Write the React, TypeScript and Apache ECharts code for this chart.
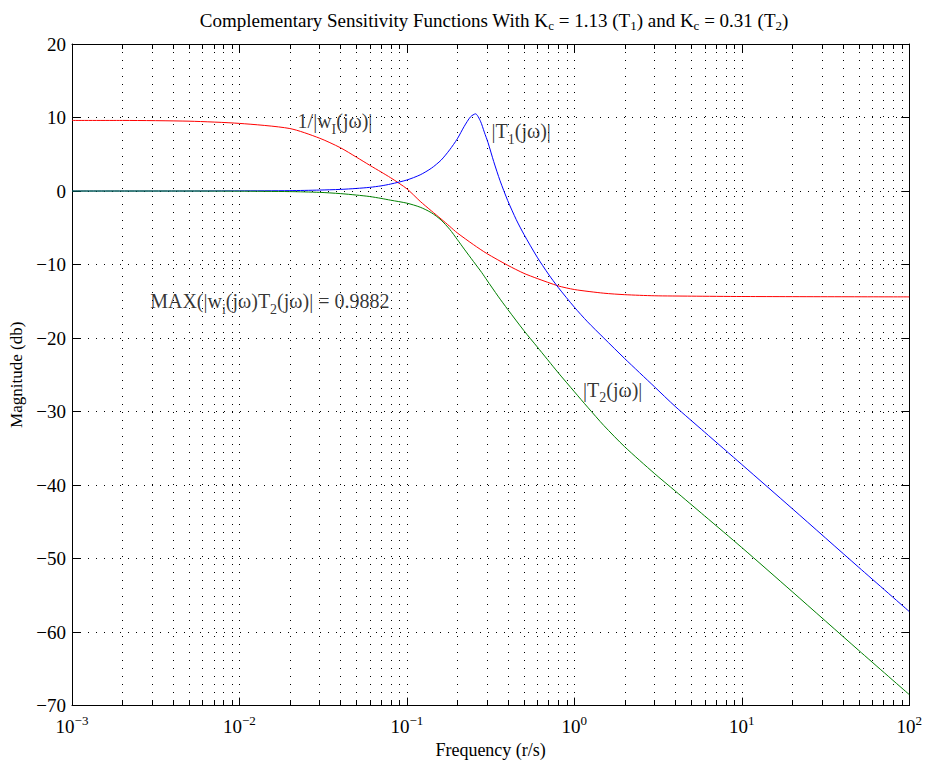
import React, { useEffect, useRef } from "react";
import * as echarts from "echarts";

// ---- data ----
const redFreq = [0.001, 0.002, 0.005, 0.01, 0.02, 0.03, 0.04, 0.05, 0.06, 0.07, 0.08, 0.1, 0.12, 0.14, 0.16, 0.18, 0.2, 0.25, 0.3, 0.4, 0.5, 0.6, 0.8, 1, 1.5, 2, 3, 5, 10, 100];
const redMag = [9.6, 9.6, 9.5, 9.2, 8.5, 7.2, 5.9, 4.6, 3.5, 2.6, 1.8, 0.3, -1.4, -2.7, -3.8, -4.8, -5.7, -7.3, -8.5, -10.1, -11.2, -11.9, -12.9, -13.4, -13.9, -14.1, -14.25, -14.3, -14.35, -14.4];

const blueFreq = [0.001, 0.005, 0.01, 0.02, 0.03, 0.04, 0.05, 0.06, 0.07, 0.08, 0.1, 0.12, 0.14, 0.16, 0.18, 0.2, 0.22, 0.24, 0.257, 0.275, 0.29, 0.305, 0.33, 0.36, 0.4, 0.45, 0.5, 0.6, 0.7, 0.8, 1, 1.2, 1.5, 2, 3, 4, 6, 10, 20, 50, 100];
const blueMag = [0, 0, 0.02, 0.05, 0.13, 0.22, 0.35, 0.5, 0.7, 0.95, 1.5, 2.2, 3.1, 4.2, 5.6, 7.1, 8.8, 10.1, 10.5, 9.5, 8.0, 6.6, 4.0, 1.4, -1.3, -3.9, -5.9, -9.0, -11.3, -13.1, -15.8, -17.8, -20.0, -22.8, -26.6, -29.3, -32.8, -37.2, -43.2, -51.2, -57.2];

const greenFreq = [0.001, 0.005, 0.01, 0.02, 0.03, 0.04, 0.05, 0.06, 0.07, 0.08, 0.1, 0.12, 0.14, 0.16, 0.18, 0.2, 0.22, 0.25, 0.28, 0.3, 0.35, 0.4, 0.5, 0.6, 0.8, 1, 1.2, 1.5, 2, 3, 4, 6, 10, 20, 50, 100];
const greenMag = [0, 0, -0.02, -0.08, -0.18, -0.35, -0.55, -0.75, -1.0, -1.25, -1.65, -2.2, -2.95, -3.95, -5.2, -6.6, -7.9, -9.6, -11.1, -12.1, -14.3, -16.1, -19.0, -21.2, -24.7, -27.3, -29.4, -31.9, -34.8, -38.4, -40.8, -44.2, -48.5, -54.5, -62.5, -68.5];

// axis ranges / ticks
const xMin = 0.001;
const xMax = 100;
const yMin = -70;
const yMax = 20;
const yStep = 10;
const decades = [0.001, 0.01, 0.1, 1, 10];
const minorMultipliers = [2, 3, 4, 5, 6, 7, 8, 9];

// annotations
const annFreq = [0.0221, 0.318, 0.00291, 1.12];
const annMag = [9.5, 8.1, -15.0, -27.0];
const annText = [
  "{n|1/|w}{s|I}{n|(jω)|}",
  "{n||T}{s|1}{n|(jω)|}",
  "{n|MAX(|w}{s|i}{n|(jω)T}{s|2}{n|(jω)| = 0.9882}",
  "{n||T}{s|2}{n|(jω)|}",
];

const titleText =
  "{n|Complementary Sensitivity Functions With K}{s|c}{n| = 1.13 (T}{s|1}{n|) and K}{s|c}{n| = 0.31 (T}{s|2}{n|)}";

const FONT = "'Liberation Serif', 'Times New Roman', serif";

export default function App() {
  const ref = useRef<HTMLDivElement>(null);

  useEffect(() => {
    if (!ref.current) return;
    const chart = echarts.init(ref.current, undefined, { renderer: "svg" });

    const minorFreqs: number[] = [];
    decades.forEach((d) => minorMultipliers.forEach((m) => minorFreqs.push(d * m)));

    const zip = (f: number[], v: number[]) => f.map((x, i) => [x, v[i]]);
    const dotted = [1, 7];

    const lineSeries = (name: string, f: number[], v: number[], color: string) => ({
      name,
      type: "line",
      data: zip(f, v),
      showSymbol: false,
      smooth: 0.25,
      lineStyle: { color, width: 1 },
      itemStyle: { color },
      z: 3,
    });

    const option: any = {
      animation: false,
      backgroundColor: "#fff",
      textStyle: { fontFamily: FONT, color: "#000" },
      grid: { left: 72, right: 12, top: 44, bottom: 57, containLabel: false },
      graphic: [
        {
          type: "text",
          x: 494,
          y: 8,
          style: {
            text: titleText,
            textAlign: "center",
            fill: "#000",
            rich: {
              n: { fontFamily: FONT, fontSize: 19, lineHeight: 24, fill: "#000" },
              s: { fontFamily: FONT, fontSize: 13, lineHeight: 12, verticalAlign: "bottom", fill: "#000" },
            },
          },
        },
      ],
      xAxis: [
        {
          type: "log",
          logBase: 10,
          min: xMin,
          max: xMax,
          name: "Frequency (r/s)",
          nameLocation: "middle",
          nameGap: 33,
          nameTextStyle: { fontFamily: FONT, fontSize: 18, color: "#000" },
          axisLine: { show: true, onZero: false, lineStyle: { color: "#000", width: 1 } },
          axisTick: { show: true, inside: true, length: 8, lineStyle: { color: "#000" } },
          splitLine: { show: true, lineStyle: { color: "#000", width: 1, type: dotted } },
          axisLabel: {
            margin: 8,
            showMinLabel: true,
            showMaxLabel: true,
            formatter: (v: number) => {
              const e = Math.round(Math.log10(v));
              const es = e < 0 ? "\u2212" + Math.abs(e) : String(e);
              return "{b|10}{s|" + es + "}";
            },
            rich: {
              b: { fontFamily: FONT, fontSize: 19, lineHeight: 26, color: "#000" },
              s: { fontFamily: FONT, fontSize: 13, lineHeight: 13, verticalAlign: "top", color: "#000" },
            },
          },
        },
        {
          type: "log",
          logBase: 10,
          min: xMin,
          max: xMax,
          position: "top",
          axisLine: { show: true, onZero: false, lineStyle: { color: "#000", width: 1 } },
          axisTick: { show: true, inside: true, length: 8, lineStyle: { color: "#000" } },
          axisLabel: { show: false },
          splitLine: { show: false },
        },
      ],
      yAxis: [
        {
          type: "value",
          min: yMin,
          max: yMax,
          interval: yStep,
          name: "Magnitude (db)",
          nameLocation: "middle",
          nameGap: 46,
          nameTextStyle: { fontFamily: FONT, fontSize: 17, color: "#000" },
          axisLine: { show: true, onZero: false, lineStyle: { color: "#000", width: 1 } },
          axisTick: { show: true, inside: true, length: 8, lineStyle: { color: "#000" } },
          splitLine: { show: true, lineStyle: { color: "#000", width: 1, type: dotted } },
          axisLabel: {
            margin: 6,
            fontFamily: FONT,
            fontSize: 19,
            color: "#000",
            formatter: (v: number) => (v < 0 ? "\u2212" + Math.abs(v) : String(v)),
          },
        },
        {
          type: "value",
          min: yMin,
          max: yMax,
          interval: yStep,
          position: "right",
          axisLine: { show: true, onZero: false, lineStyle: { color: "#000", width: 1 } },
          axisTick: { show: true, inside: true, length: 8, lineStyle: { color: "#000" } },
          axisLabel: { show: false },
          splitLine: { show: false },
        },
      ],
      series: [
        {
          type: "custom",
          coordinateSystem: "cartesian2d",
          xAxisIndex: 0,
          yAxisIndex: 0,
          silent: true,
          clip: false,
          z: 1,
          data: minorFreqs.map((f) => [f, 0]),
          renderItem: (params: any, api: any) => {
            const cs = params.coordSys;
            const x = Math.round(api.coord([api.value(0), 0])[0]) + 0.5;
            const top = cs.y;
            const bottom = cs.y + cs.height;
            return {
              type: "group",
              children: [
                {
                  type: "line",
                  shape: { x1: x, y1: top, x2: x, y2: bottom },
                  style: { stroke: "#000", lineWidth: 1, lineDash: dotted },
                },
                {
                  type: "line",
                  shape: { x1: x, y1: bottom, x2: x, y2: bottom - 5 },
                  style: { stroke: "#000", lineWidth: 1 },
                },
                {
                  type: "line",
                  shape: { x1: x, y1: top, x2: x, y2: top + 5 },
                  style: { stroke: "#000", lineWidth: 1 },
                },
              ],
            };
          },
        },
        lineSeries("1/|wI|", redFreq, redMag, "#ff0000"),
        lineSeries("|T1|", blueFreq, blueMag, "#0000ff"),
        lineSeries("|T2|", greenFreq, greenMag, "#008000"),
        {
          type: "scatter",
          symbolSize: 1,
          itemStyle: { color: "rgba(0,0,0,0)" },
          silent: true,
          z: 5,
          data: annFreq.map((f, i) => [f, annMag[i]]),
          label: {
            show: true,
            position: "right",
            distance: 0,
            formatter: (p: any) => annText[p.dataIndex],
            rich: {
              n: { fontFamily: FONT, fontSize: 20, lineHeight: 30, color: "#000" },
              s: { fontFamily: FONT, fontSize: 14, lineHeight: 14, verticalAlign: "bottom", color: "#000" },
            },
          },
        },
      ],
    };

    chart.setOption(option);
    return () => chart.dispose();
  }, []);

  return (
    <div
      ref={ref}
      style={{ position: "fixed", left: 0, top: 0, width: 925, height: 764 }}
    />
  );
}
